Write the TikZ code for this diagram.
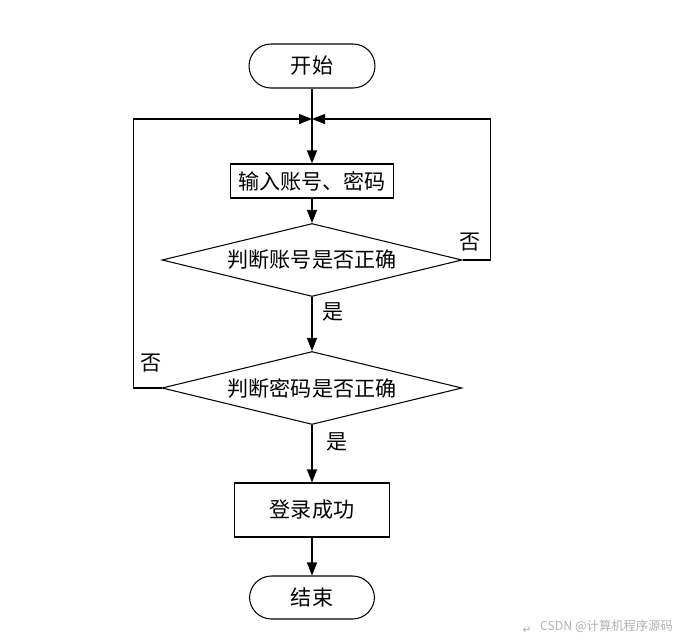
\documentclass[tikz,border=0pt]{standalone}
\usepackage{fontspec}
\setmainfont{Noto Sans CJK SC}
\newfontfamily\symbolfont{DejaVu Sans}
\usetikzlibrary{shapes.geometric,arrows.meta}

\tikzset{
  terminal/.style={draw, line width=0.6pt, rounded corners=0.44cm, minimum width=2.52cm, minimum height=0.88cm, font=\fontsize{12}{14}\selectfont},
  process/.style={draw, line width=0.6pt, inner sep=0pt, font=\fontsize{12}{14}\selectfont},
  decision/.style={draw, diamond, aspect=4.1, inner sep=0pt, line width=0.6pt, minimum width=6cm, minimum height=1.46cm, font=\fontsize{12}{14}\selectfont},
  flow/.style={line width=0.6pt, -{Triangle[length=0.26cm,width=0.2cm]}},
  branch/.style={font=\fontsize{12}{14}\selectfont}
}

\begin{document}
\begin{tikzpicture}[x=0.02cm, y=-0.02cm]

    % --- Canvas ---
    \useasboundingbox[fill=white] (0, 0) rectangle (686, 639);

    % --- Nodes ---
    % Start terminal
    \node[terminal] (start) at (312, 66) {开始};
    % Point where both loops join the main line
    \coordinate (merge) at (312, 119);
    % Input step
    \node[process, minimum width=3.26cm, minimum height=0.68cm] (input) at (312, 181) {输入账号、密码};
    % First check: account
    \node[decision] (checkuser) at (312, 260) {判断账号是否正确};
    % Second check: password
    \node[decision] (checkpass) at (312, 388) {判断密码是否正确};
    % Success step
    \node[process, minimum width=3.1cm, minimum height=1.08cm] (success) at (312, 510) {登录成功};
    % End terminal
    \node[terminal, minimum width=2.5cm, minimum height=0.86cm] (stop) at (312, 597.5) {结束};

    % --- Main line ---
    \draw[flow] (start) -- (input);
    \draw[flow] (input) -- (checkuser);
    \draw[flow] (checkuser) -- (checkpass);
    \draw[flow] (checkpass) -- (success);
    \draw[flow] (success) -- (stop);

    % --- Loops back ---
    % Account wrong: right side back to the input
    \draw[flow] (checkuser.east) -- ++(28, 0) |- (merge);
    % Password wrong: left side back to the input
    \draw[flow] (checkpass.west) -- ++(-28, 0) |- (merge);

    % --- Branch labels ---
    \node[branch] (nouser) at (470, 242) {否};
    \node[branch] (yesuser) at (333, 312) {是};
    \node[branch] (nopass) at (151, 363) {否};
    \node[branch] (yespass) at (337, 442) {是};

    % --- Watermark ---
    \node[text=black!35, font=\symbolfont\fontsize{6}{7}\selectfont] (mark) at (527, 630) {↵};
    \node[text=black!30, font=\fontsize{7}{8}\selectfont, anchor=east] (credit) at (679, 626) {CSDN @计算机程序源码};

\end{tikzpicture}
\end{document}
